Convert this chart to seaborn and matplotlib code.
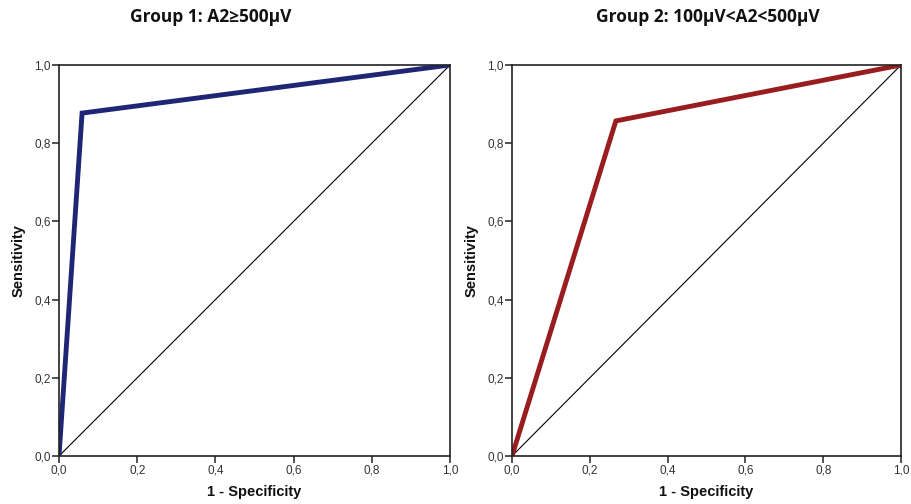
import matplotlib
matplotlib.use("Agg")
import matplotlib.pyplot as plt
import matplotlib.ticker as mticker
import seaborn as sns
import pandas as pd

# ROC curves (1 - specificity, sensitivity) for the two amplitude groups
group1_fpr = [0.0, 0.059, 1.0]
group1_tpr = [0.0, 0.877, 1.0]
group2_fpr = [0.0, 0.267, 1.0]
group2_tpr = [0.0, 0.857, 1.0]

titles = ["Group 1: A2\u2265500\u00b5V", "Group 2: 100\u00b5V<A2<500\u00b5V"]
colors = ["#1f2676", "#991c1f"]
ticks = [0.0, 0.2, 0.4, 0.6, 0.8, 1.0]

sns.set_theme(style="white")
plt.rcParams["font.family"] = ["Liberation Sans", "DejaVu Sans"]

fig = plt.figure(figsize=(9.11, 5.04), dpi=100)
W, H = 911, 504
ax_boxes = [(59, 65, 391, 391), (512, 65, 389, 391)]
title_x = [211, 708]

series = [(group1_fpr, group1_tpr), (group2_fpr, group2_tpr)]

comma = mticker.FuncFormatter(lambda v, p: f"{v:.1f}".replace(".", ","))

for i, ((fpr, tpr), box) in enumerate(zip(series, ax_boxes)):
    x0, y0, w, h = box
    ax = fig.add_axes([x0 / W, 1 - (y0 + h) / H, w / W, h / H])
    df = pd.DataFrame({"fpr": fpr, "tpr": tpr})
    # reference diagonal
    sns.lineplot(x=[0, 1], y=[0, 1], ax=ax, color="black", linewidth=0.8)
    sns.lineplot(data=df, x="fpr", y="tpr", ax=ax, sort=False,
                 color=colors[i], linewidth=3.5, solid_joinstyle="miter")
    ax.set_xlim(0, 1)
    ax.set_ylim(0, 1)
    ax.set_xticks(ticks)
    ax.set_yticks(ticks)
    ax.xaxis.set_major_formatter(comma)
    ax.yaxis.set_major_formatter(comma)
    ax.tick_params(axis="both", which="major", direction="out", length=5,
                   width=1.2, color="#333333", labelsize=8.5,
                   labelcolor="#333333", bottom=True, left=True, pad=1)
    for s in ax.spines.values():
        s.set_color("#222222")
        s.set_linewidth(1.2)
    ax.set_xlabel("1 - Specificity", fontsize=10.5, fontweight="bold",
                  color="#111111", labelpad=6)
    ax.set_ylabel("Sensitivity", fontsize=10.5, fontweight="bold",
                  color="#111111", labelpad=6)
    fig.text(title_x[i] / W, 1 - 17 / H, titles[i], ha="center", va="center",
             fontsize=12.5, fontweight="bold", family=["Open Sans", "DejaVu Sans"],
             color="#111111")

fig.savefig("out.png", dpi=100, facecolor="white")
